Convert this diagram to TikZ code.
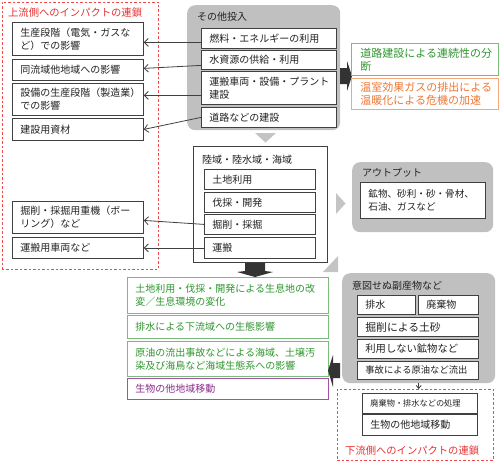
\documentclass[tikz,border=0pt]{standalone}
\usepackage{fontspec}
\setmainfont{Noto Sans CJK JP}
\usetikzlibrary{arrows.meta}
\definecolor{boxgray}{HTML}{C0C0C0}
\definecolor{trigray}{HTML}{C4C4C4}
\definecolor{bordc}{HTML}{404040}
\definecolor{darkarr}{HTML}{333333}
\definecolor{txt}{HTML}{222222}
\definecolor{grnb}{HTML}{7BBB7B}
\definecolor{grnt}{HTML}{2F962F}
\definecolor{orb}{HTML}{F4A77A}
\definecolor{ort}{HTML}{EE7733}
\definecolor{purb}{HTML}{A552A5}
\definecolor{purt}{HTML}{8A2D8A}
\definecolor{redd}{HTML}{F04848}
\definecolor{redt}{HTML}{E63030}
\newcommand\myfs[1]{\fontsize{#1}{13}\selectfont}
\tikzset{
  box/.style={draw=bordc, fill=white, line width=0.8pt, anchor=north west,
    inner xsep=8pt, inner ysep=0pt, align=left, text=txt, font=\myfs{10}},
  grbox/.style={box, draw=grnb, text=grnt},
  orbox/.style={box, draw=orb, text=ort},
  pubox/.style={box, draw=purb, text=purt},
  graybg/.style={fill=boxgray, draw=none, rounded corners=8pt, anchor=north west, inner sep=0pt},
  redbox/.style={draw=redd, line width=0.8pt, dash pattern=on 2.5pt off 2pt, anchor=north west, inner sep=0pt},
  ttl/.style={anchor=west, inner sep=0pt, text=txt, font=\myfs{10}},
  redttl/.style={anchor=west, inner sep=0pt, text=redt, font=\myfs{10.3}},
  conn/.style={draw=bordc, line width=0.8pt, -{Straight Barb[length=4pt,width=8pt]}}
}
\begin{document}
\begin{tikzpicture}[x=1pt,y=-1pt]
\useasboundingbox (0,0) rectangle (500,461);
% upstream red dashed box
\node[redbox, minimum width=156.5pt, minimum height=267.5pt] (up) at (1.5,1.5) {};
\node[redttl] (upt) at (8,12.5) {上流側へのインパクトの連鎖};
\node[box, text width=115pt, minimum height=33pt] (b1) at (12,22) {生産段階（電気・ガスな\\ど）での影響};
\node[box, text width=115pt, minimum height=21pt] (b2) at (12,59) {同流域他地域への影響};
\node[box, text width=115pt, minimum height=32pt] (b3) at (12,83) {設備の生産段階（製造業）\\での影響};
\node[box, text width=115pt, minimum height=22pt] (b4) at (12,118) {建設用資材};
\node[box, text width=115pt, minimum height=32pt] (b5) at (12,201) {掘削・採掘用重機（ボー\\リング）など};
\node[box, text width=115pt, minimum height=21pt] (b6) at (12,237) {運搬用車両など};
% other inputs
\node[graybg, minimum width=153pt, minimum height=125pt] (oth) at (187,5) {};
\node[ttl] (otht) at (197,16.5) {その他投入};
\node[box, text width=119pt, minimum height=20pt] (fuel) at (201,28) {燃料・エネルギーの利用};
\node[box, text width=119pt, minimum height=19pt] (water) at (201,50) {水資源の供給・利用};
\node[box, text width=119pt, minimum height=33pt] (veh) at (201,71) {運搬車両・設備・プラント\\建設};
\node[box, text width=119pt, minimum height=20pt] (road) at (201,107) {道路などの建設};
\draw[conn] ([yshift=-4pt]fuel.west) -- ([yshift=-3.5pt]b1.east);
\draw[conn] ([yshift=-5.5pt]water.west) -- ([yshift=1.5pt]b2.east);
\draw[conn] ([yshift=-7.5pt]veh.west) -- ([yshift=4pt]b3.east);
\draw[conn] (road.west) -- (b4.east);
% dark right arrow
\fill[darkarr] (340,68) -- (347,68) -- (347,61) -- (352,76) -- (347,91) -- (347,84) -- (340,84) -- cycle;
\node[grbox, inner xsep=9pt, text width=129pt, minimum height=32pt, font=\myfs{11}] (g1) at (351,43) {道路建設による連続性の分\\断};
\node[orbox, inner xsep=9pt, text width=129pt, minimum height=31pt, font=\myfs{11}] (o1) at (351,78) {温室効果ガスの排出による\\温暖化による危機の加速};
% gray down triangle
\fill[trigray] (255,133) -- (276,133) -- (265.5,142.5) -- cycle;
% main area box
\node[box, minimum width=134pt, minimum height=116pt, inner sep=0pt] (area) at (193,146) {};
\node[ttl] (areat) at (202,160) {陸域・陸水域・海域};
\node[box, text width=95pt, minimum height=20pt] (land) at (204,169) {土地利用};
\node[box, text width=95pt, minimum height=20pt] (forest) at (204,192) {伐採・開発};
\node[box, text width=95pt, minimum height=20pt] (excav) at (204,214) {掘削・採掘};
\node[box, text width=95pt, minimum height=21pt] (trans) at (204,237) {運搬};
\draw[conn] (excav.west) -- ([yshift=-3pt]b5.east);
\draw[conn] (trans.west) -- (b6.east);
% right gray triangle
\fill[trigray] (336,193) -- (345.5,203.5) -- (336,214) -- cycle;
% output
\node[graybg, minimum width=141pt, minimum height=70pt] (outp) at (352,162) {};
\node[ttl] (outpt) at (362,172.5) {アウトプット};
\node[box, text width=109pt, minimum height=36pt, font=\myfs{9.6}] (minr) at (360,182) {鉱物、砂利・砂・骨材、\\石油、ガスなど};
% diagonal gray triangle
\fill[trigray] (338,256) -- (338,272) -- (323,272) -- cycle;
% dark down arrow
\fill[darkarr] (245,263) -- (265,263) -- (265,271) -- (273,272) -- (255,277) -- (237,272) -- (245,271) -- cycle;
% green impacts
\node[grbox, text width=185pt, minimum height=36pt] (gb1) at (127,277) {土地利用・伐採・開発による生息地の改\\変／生息環境の変化};
\node[grbox, text width=185pt, minimum height=23pt] (gb2) at (127,315) {排水による下流域への生態影響};
\node[grbox, text width=185pt, minimum height=35pt] (gb3) at (127,341) {原油の流出事故などによる海域、土壌汚\\染及び海鳥など海域生態系への影響};
\node[pubox, text width=185pt, minimum height=21pt] (pb) at (127,378) {生物の他地域移動};
% dark left arrow
\fill[darkarr] (340,363) -- (333,363) -- (333,355) -- (328,370.5) -- (333,387) -- (333,378) -- (340,378) -- cycle;
% byproducts
\node[graybg, minimum width=153pt, minimum height=110pt] (byp) at (342,273) {};
\node[ttl] (bypt) at (352,285.5) {意図せぬ副産物など};
\node[box, text width=42pt, minimum height=19pt] (drain) at (357,295) {排水};
\node[box, text width=44pt, minimum height=19pt] (waste) at (418,295) {廃棄物};
\node[box, text width=105pt, minimum height=19pt, font=\myfs{10.8}] (soil) at (357,317) {掘削による土砂};
\node[box, text width=105pt, minimum height=19pt, font=\myfs{10.3}] (unused) at (357,339) {利用しない鉱物など};
\node[box, text width=105pt, minimum height=18pt, font=\myfs{9.3}] (acc) at (357,361) {事故による原油など流出};
% downstream red dashed box
\node[redbox, minimum width=156pt, minimum height=71pt] (down) at (337,389) {};
\draw[draw=bordc, line width=0.8pt, -{Straight Barb[length=3pt,width=5pt]}] (byp.south) -- (byp.south |- down.north);
\node[box, text width=99pt, minimum height=20pt, font=\myfs{8.2}] (treat) at (362,393) {廃棄物・排水などの処理};
\node[box, text width=99pt, minimum height=21pt] (bio2) at (362,414) {生物の他地域移動};
\node[redttl] (downt) at (345,451) {下流側へのインパクトの連鎖};
\end{tikzpicture}
\end{document}
